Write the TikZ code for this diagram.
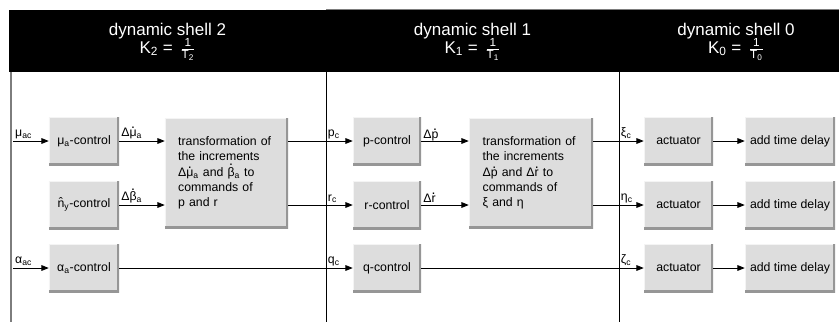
\documentclass[tikz,border=0pt]{standalone}
\usepackage{fontspec}
\setmainfont{Liberation Sans}
\usetikzlibrary{arrows.meta}

\definecolor{boxfill}{RGB}{221,221,221}
\definecolor{boxlight}{RGB}{244,244,244}
\definecolor{boxdark}{RGB}{150,150,150}
\definecolor{framegray}{RGB}{125,125,125}

\newcommand{\blkfont}{\fontsize{10.5}{13}\selectfont}
\newcommand{\hdfont}{\fontsize{14.5}{17}\selectfont}
% dot and hat set over a single letter
\newcommand{\dotover}[2][0.64em]{{\ooalign{#2\cr\hidewidth\raisebox{#1}{\fontsize{12}{12}\selectfont.}\hidewidth\cr}}}
\newcommand{\hatover}[1]{{\ooalign{#1\cr\hidewidth\raisebox{0.12em}{ˆ}\hidewidth\cr}}}
\newcommand{\kfrac}[1]{\,$\frac{\mbox{\fontsize{10}{10}\selectfont 1}}{\mbox{\fontsize{10}{10}\selectfont T\textsubscript{#1}}}$}

\begin{document}
\begin{tikzpicture}[x=0.03cm,y=-0.03cm,
  block/.style={fill=boxfill,inner sep=0pt,minimum height=1.44cm,align=center,font=\blkfont,
    path picture={
      \draw[boxlight,line width=1.8pt] (path picture bounding box.south west)
        -- (path picture bounding box.north west) -- (path picture bounding box.north east);
      \draw[boxdark,line width=3.4pt] (path picture bounding box.north east)
        -- (path picture bounding box.south east) -- (path picture bounding box.south west);
    }},
  trafo/.style={block,minimum height=3.3cm,text width=2.9cm,align=left},
  arr/.style={-{Triangle[length=0.22cm,width=0.17cm]},line width=0.75pt},
  lbl/.style={font=\blkfont,inner sep=1.5pt,anchor=south west},
  shellhead/.style={font=\hdfont,text=white,align=center},
]
\useasboundingbox (0,0) rectangle (839,322);

% Header band
\fill[black] (9,10) rectangle (839,72);
\draw[framegray,line width=0.6pt] (326,9) -- (839,9);
\node[shellhead] (hd2) at (167.5,42) {dynamic shell 2\\[-2pt]K\textsubscript{2} = \kfrac{2}};
\node[shellhead] (hd1) at (472.5,42) {dynamic shell 1\\[-2pt]K\textsubscript{1} = \kfrac{1}};
\node[shellhead] (hd0) at (736,42) {dynamic shell 0\\[-2pt]K\textsubscript{0} = \kfrac{0}};

% Shell borders
\coordinate (div0) at (11,72);
\coordinate (div1) at (326,72);
\coordinate (div2) at (619,72);
\draw[framegray,line width=1pt] (div0) -- ++(0,250);
\draw[line width=0.75pt] (div1) -- ++(0,250);
\draw[line width=0.75pt] (div2) -- ++(0,250);

% Shell 2
\node[block,minimum width=2.1cm] (mua) at (84,141) {μ\textsubscript{a}-control};
\node[block,minimum width=2.1cm] (ny) at (84,205) {\hatover{n}\textsubscript{y}-control};
\node[block,minimum width=2.1cm] (alpha) at (84,268) {α\textsubscript{a}-control};
\node[trafo,minimum width=3.69cm] (trans1) at (226.5,173)
  {transformation of\\the increments\\Δ\dotover{μ}\textsubscript{a} and \dotover[0.86em]{β}\textsubscript{a} to\\commands of\\p and r};

% Shell 1
\node[block,minimum width=2.04cm] (pctl) at (387,141) {p-control};
\node[block,minimum width=2.04cm] (rctl) at (387,205) {r-control};
\node[block,minimum width=2.04cm] (qctl) at (387,268) {q-control};
\node[trafo,minimum width=3.72cm] (trans2) at (531,173)
  {transformation of\\the increments\\Δ\dotover{p} and Δ\dotover{r} to\\commands of\\ξ and η};

% Shell 0
\foreach \i/\y in {1/141,2/205,3/268}{
  \node[block,minimum width=2.07cm] (act\i) at (678.5,\y) {actuator};
  \node[block,minimum width=2.7cm] (delay\i) at (790,\y) {add time delay};
  \draw[arr] (act\i) -- (delay\i);
}

% Inputs
\coordinate (muin) at (13,141);
\coordinate (alin) at (13,268);
\draw[arr] (muin) -- node[lbl,pos=0] {μ\textsubscript{ac}} (mua);
\draw[arr] (alin) -- node[lbl,pos=0] {α\textsubscript{ac}} (alpha);

% Shell 2 links
\draw[arr] (mua) -- node[lbl,pos=0] {Δ\dotover{μ}\textsubscript{a}} (trans1.west |- mua);
\draw[arr] (ny) -- node[lbl,pos=0] {Δ\dotover[0.86em]{β}\textsubscript{a}} (trans1.west |- ny);
\draw[arr] (trans1.east |- pctl) -- (pctl);
\draw[arr] (trans1.east |- rctl) -- (rctl);
\draw[arr] (alpha) -- (qctl);
\node[lbl] at (div1 |- pctl) {p\textsubscript{c}};
\node[lbl] at (div1 |- rctl) {r\textsubscript{c}};
\node[lbl] at (div1 |- qctl) {q\textsubscript{c}};

% Shell 1 links
\draw[arr] (pctl) -- node[lbl,pos=0] {Δ\dotover{p}} (trans2.west |- pctl);
\draw[arr] (rctl) -- node[lbl,pos=0] {Δ\dotover{r}} (trans2.west |- rctl);
\draw[arr] (trans2.east |- act1) -- (act1);
\draw[arr] (trans2.east |- act2) -- (act2);
\draw[arr] (qctl) -- (act3);
\node[lbl] at (div2 |- act1) {ξ\textsubscript{c}};
\node[lbl] at (div2 |- act2) {η\textsubscript{c}};
\node[lbl] at (div2 |- act3) {ζ\textsubscript{c}};

\end{tikzpicture}
\end{document}
